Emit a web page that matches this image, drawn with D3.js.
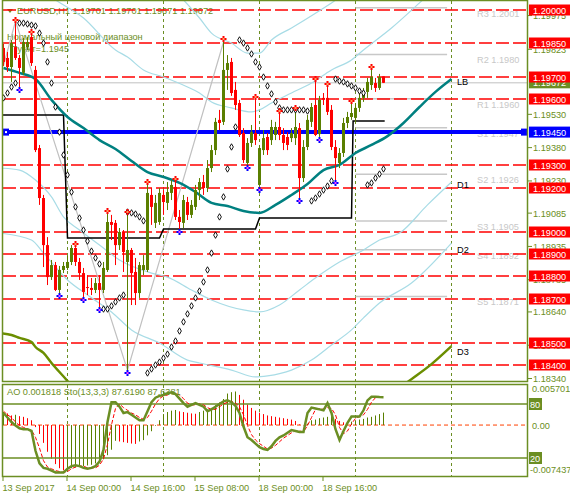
<!DOCTYPE html>
<html><head><meta charset="utf-8">
<script src="https://cdn.jsdelivr.net/npm/d3@7"></script>
<style>
body{margin:0;background:#fff}
svg{display:block}
text{font-family:"Liberation Sans",Arial,sans-serif;font-size:9.2px}
</style>
</head><body>
<svg id="c" width="570" height="498"></svg>
<script>
// ---------------- DATA ----------------
const barOpen = [1.19829,1.19784,1.19743,1.19833,1.19784,1.19717,1.19833,1.19878,1.19730,1.19378,
1.19153,1.18941,1.18797,1.18851,1.18739,1.18829,1.18838,1.18865,1.18928,1.18865,
1.18815,1.18752,1.18748,1.18739,1.18770,1.18739,1.18829,1.19045,1.19041,1.18941,
1.19000,1.18865,1.18919,1.18820,1.18725,1.18829,1.18829,1.19167,1.19041,1.19045,
1.19167,1.19131,1.19176,1.19203,1.19068,1.19041,1.19135,1.19077,1.19113,1.19189,
1.19225,1.19198,1.19288,1.19369,1.19505,1.19496,1.19730,1.19766,1.19640,1.19581,
1.19446,1.19311,1.19401,1.19446,1.19212,1.19369,1.19428,1.19414,1.19437,1.19473,
1.19437,1.19428,1.19423,1.19423,1.19468,1.19243,1.19383,1.19496,1.19572,1.19441,
1.19604,1.19604,1.19550,1.19383,1.19311,1.19356,1.19491,1.19518,1.19514,1.19559,
1.19604,1.19631,1.19662,1.19671,1.19649,1.19701];
const barHigh = [1.19847,1.19811,1.19865,1.19941,1.19797,1.19874,1.19878,1.19887,1.19748,1.19392,
1.19167,1.18977,1.18874,1.18865,1.18847,1.18865,1.18892,1.18941,1.18932,1.18883,
1.18838,1.18806,1.18793,1.18793,1.18806,1.18865,1.19081,1.19077,1.19054,1.19018,
1.19009,1.19077,1.18928,1.18883,1.18865,1.18896,1.19212,1.19198,1.19167,1.19198,
1.19189,1.19225,1.19234,1.19225,1.19099,1.19167,1.19158,1.19144,1.19212,1.19243,
1.19257,1.19324,1.19392,1.19514,1.19550,1.19856,1.19797,1.19784,1.19676,1.19595,
1.19468,1.19423,1.19482,1.19595,1.19392,1.19459,1.19446,1.19505,1.19496,1.19532,
1.19468,1.19450,1.19468,1.19545,1.19491,1.19414,1.19527,1.19581,1.19676,1.19613,
1.19626,1.19653,1.19572,1.19414,1.19378,1.19514,1.19541,1.19577,1.19581,1.19622,
1.19649,1.19694,1.19730,1.19694,1.19712,1.19701];
const barLow = [1.19748,1.19721,1.19676,1.19775,1.19653,1.19707,1.19820,1.19748,1.19360,1.19122,
1.18842,1.18761,1.18784,1.18734,1.18725,1.18815,1.18829,1.18851,1.18847,1.18784,
1.18707,1.18716,1.18716,1.18725,1.18662,1.18725,1.18820,1.18964,1.18851,1.18919,
1.18820,1.18378,1.18671,1.18671,1.18703,1.18806,1.18820,1.19032,1.19018,1.19032,
1.19077,1.19099,1.19144,1.19054,1.19014,1.19018,1.19054,1.19063,1.19099,1.19144,
1.19167,1.19180,1.19270,1.19347,1.19459,1.19482,1.19640,1.19613,1.19550,1.19428,
1.19311,1.19302,1.19383,1.19392,1.19203,1.19347,1.19347,1.19392,1.19414,1.19414,
1.19369,1.19369,1.19405,1.19392,1.19153,1.19225,1.19369,1.19473,1.19432,1.19428,
1.19572,1.19527,1.19369,1.19234,1.19288,1.19338,1.19468,1.19505,1.19496,1.19541,
1.19586,1.19604,1.19640,1.19631,1.19640,1.19671];
const barClose = [1.19766,1.19743,1.19851,1.19784,1.19739,1.19856,1.19856,1.19761,1.19369,1.19153,
1.18941,1.18797,1.18851,1.18739,1.18829,1.18847,1.18865,1.18928,1.18865,1.18815,
1.18730,1.18748,1.18739,1.18770,1.18739,1.18838,1.19045,1.19032,1.18941,1.19000,
1.18910,1.18919,1.18815,1.18725,1.18851,1.18851,1.19176,1.19113,1.19131,1.19176,
1.19135,1.19180,1.19212,1.19068,1.19045,1.19144,1.19077,1.19122,1.19189,1.19225,
1.19198,1.19288,1.19369,1.19496,1.19491,1.19730,1.19761,1.19626,1.19572,1.19437,
1.19324,1.19401,1.19450,1.19414,1.19378,1.19423,1.19369,1.19473,1.19473,1.19437,
1.19401,1.19392,1.19446,1.19473,1.19243,1.19383,1.19505,1.19563,1.19437,1.19595,
1.19595,1.19541,1.19383,1.19333,1.19356,1.19491,1.19518,1.19536,1.19559,1.19604,
1.19631,1.19676,1.19698,1.19649,1.19698,1.19672];

const sarValues = [1.19604,1.19626,1.19653,1.19671,1.19941,1.19941,1.19937,1.19932,1.19928,1.19896,
1.19851,1.19766,1.19671,1.19563,1.19450,1.19347,1.19257,1.19180,1.19113,1.19063,
1.19009,1.18959,1.18914,1.18883,1.18856,1.18653,1.18653,1.18667,1.18685,1.18703,
1.18716,1.19090,1.19086,1.19081,1.19068,1.19050,1.18365,1.18383,1.18401,1.18414,
1.18432,1.18450,1.18482,1.18509,1.18554,1.18595,1.18631,1.18667,1.18703,1.18734,
1.18775,1.18829,1.18905,1.18986,1.19068,1.19158,1.19284,1.19383,1.19473,1.19865,
1.19851,1.19829,1.19802,1.19766,1.19743,1.19698,1.19658,1.19622,1.19586,1.19559,
1.19550,1.19550,1.19550,1.19550,1.19550,1.19550,1.19545,1.19140,1.19153,1.19171,
1.19189,1.19207,1.19230,1.19689,1.19680,1.19676,1.19667,1.19658,1.19649,1.19635,
1.19626,1.19212,1.19221,1.19243,1.19261,1.19284];

const fractalUp = [3,7,18,26,31,36,43,55,63,69,73,78,81,87,92];
const fractalDown = [4,14,20,24,31,44,61,64,74,79,83];

const maIndex = [0,4,8,12,16,20,24,28,32,36,40,44,48,52,56,60,64,68,72,76,80,84,88,92,96,100,104,108,112];
const maValues = [1.19739,1.19717,1.19689,1.19595,1.19518,1.19468,1.19414,1.19374,1.19320,1.19270,1.19248,1.19221,1.19180,1.19131,1.19117,1.19095,1.19086,1.19122,1.19167,1.19216,1.19279,1.19302,1.19356,1.19392,1.19432,1.19491,1.19563,1.19631,1.19689];

const band0Index = [43,45,49,52,57,61,64,67,72,82,85];
const band0Values = [1.20081,1.20045,1.19964,1.19896,1.19851,1.19806,1.19806,1.19865,1.19919,1.20032,1.20068];
const band1Index = [10,13,20,28,31,35,40,46,49,52,57,62,64,67,72,77,82,87,90,97,104,107];
const band1Values = [1.20081,1.20045,1.19964,1.19820,1.19788,1.19730,1.19698,1.19653,1.19626,1.19586,1.19559,1.19541,1.19550,1.19581,1.19626,1.19671,1.19730,1.19775,1.19820,1.19919,1.20032,1.20081];
const band2Index = [-1,4,8,12,15,19,24,29,37,41,47,52,60,64,69,74,79,84,90,94,99,106,112];
const band2Values = [1.19288,1.19279,1.19234,1.19158,1.19068,1.19009,1.18941,1.18874,1.18815,1.18797,1.18739,1.18694,1.18649,1.18640,1.18671,1.18739,1.18806,1.18865,1.18919,1.18964,1.18995,1.19122,1.19225];
const band3Index = [-1,7,10,16,21,27,32,39,46,49,57,63,66,72,77,82,87,90,94,102,112];
const band3Values = [1.18995,1.18964,1.18905,1.18784,1.18716,1.18640,1.18559,1.18500,1.18423,1.18410,1.18378,1.18347,1.18352,1.18378,1.18423,1.18491,1.18559,1.18613,1.18680,1.18770,1.18950];

const d3Index = [-1,2,4,7,8,10,12,16,22,49,74,94,101,107,112];
const d3Values = [1.18545,1.18536,1.18523,1.18504,1.18482,1.18455,1.18410,1.18329,1.18198,1.18063,1.18063,1.18225,1.18324,1.18405,1.18486];

const zigIndex = [0,3,31,55];
const zigValues = [1.19748,1.19950,1.18378,1.19856];

const rangeIndex = [-0.3,15,16,39,40,63,64,87,87.4,95.3];
const rangeValues = [1.19527,1.19527,1.18973,1.18973,1.19014,1.19014,1.19063,1.19063,1.19500,1.19500];

const redLevels = [1.2000,1.1985,1.1970,1.1960,1.1930,1.1920,1.1900,1.1890,1.1880,1.1870,1.1850,1.1840];
const blueLevel = 1.1945;
const bidPrice = 1.19672;
const priceTicks = [1.19975,1.19823,1.19530,1.19380,1.19230,1.19085,1.18935,1.18785,1.18640,1.18490,1.18340];

const pivotNames = ["R3","R2","R1","S1","S2","S3","S4","S5"];
const pivotValues = [1.2001,1.1980,1.1960,1.1947,1.1926,1.1905,1.1892,1.1871];

const lineTags = ["LB","D1","D2","D3"];
const lineTagValues = [1.19680,1.19215,1.18925,1.18465];

const dateLabels = ["13 Sep 2017","14 Sep 00:00","14 Sep 16:00","15 Sep 08:00","18 Sep 00:00","18 Sep 16:00"];
const dateIndex = [0,16,32,48,64,80];
const daySeparators = [16,40,64,88,112];

const aoValues = [0.0019,0.0017,0.0014,0.0015,0.0013,0.0012,0.0010,0.0007,
-0.0003,-0.0013,-0.0026,-0.0039,-0.0049,-0.0057,-0.0063,-0.0066,
-0.0065,-0.0063,-0.0062,-0.0061,-0.0060,-0.0059,-0.0058,-0.0056,-0.0054,
-0.0050,-0.0044,-0.0036,-0.0023,-0.0024,-0.0025,-0.0026,-0.0027,-0.00275,
-0.0024,-0.0022,-0.0015,-0.0009,-0.0001,0.0007,
0.0016,0.0019,0.0021,0.0022,0.0020,0.0019,0.0018,0.0017,0.00165,
0.0019,0.0021,0.0022,0.0025,0.0029,0.0033,0.0038,0.0046,0.0048,0.0049,
0.0044,0.0037,0.0030,0.0025,0.0021,0.0018,0.0016,0.0014,0.0013,0.0012,0.0011,0.0010,0.0009,0.0008,0.0006,0.0001,-0.00005,
0.0002,0.0007,0.0008,0.0010,0.0011,0.0012,0.0014,
0.0009,0.0006,0.0004,0.0003,
0.0005,0.0007,0.0008,0.0009,0.0011,0.0012,0.0014,0.0016,0.001818];

const stochMain = [70,65,60,56,53,52,52,50,28,14,9,8,6,4,4,4,8,11,12,11,9,8,9,11,16,29,60,82,82,77,
70,71,68,65,62,62,72,82,87,89,90,92,93,91,86,81,77,79,81,79,77,72,74,77,80,83,84,82,78,70,
55,43,40,36,32,30,29,33,39,43,45,48,51,50,49,49,70,76,75,74,73,81,70,52,40,50,59,66,66,66,
73,84,88,88,87.7,87.619];
const stochSignal = [72,68,65,60,56,54,52,51,43,31,17,10,8,6,5,4,5,8,10,11,11,9,9,9,12,19,35,57,75,80,
76,73,70,68,65,63,65,72,80,86,89,90,92,92,90,86,81,79,79,80,79,76,74,74,77,80,82,83,81,77,
68,56,46,40,36,33,30,31,34,38,42,45,48,50,50,49,56,65,74,75,74,76,75,68,54,47,50,58,64,66,
68,74,82,87,88,87.7];

const aoTicks = {top:0.005701, bottom:-0.007437};

// ---------------- SETUP ----------------
const OLIVE = "#6b8e23", BULL = "#5a7f00", BEAR = "#ff0000";
const svg = d3.select("#c");
svg.append("rect").attr("width",570).attr("height",498).attr("fill","#fff");

const x = d3.scaleLinear().domain([0,112]).range([3.5,451.5]);
const y = d3.scaleLinear().domain([1.2,1.184]).range([10,365.2]);
const yAO = d3.scaleLinear().domain([aoTicks.top, aoTicks.bottom]).range([386,476]);
const yS = d3.scaleLinear().domain([0,100]).range([476,386]);

const defs = svg.append("defs");
defs.append("clipPath").attr("id","mainClip").append("rect").attr("x",3).attr("y",1).attr("width",525).attr("height",380);
defs.append("clipPath").attr("id","indClip").append("rect").attr("x",3).attr("y",385).attr("width",525).attr("height",91);

// day separators
svg.append("g").selectAll("line").data(daySeparators).join("line")
  .attr("x1",d=>x(d)).attr("x2",d=>x(d)).attr("y1",1).attr("y2",477)
  .attr("stroke",OLIVE).attr("stroke-width",1).attr("stroke-dasharray","3,3");

const main = svg.append("g").attr("clip-path","url(#mainClip)");

// texts in chart
main.append("path").attr("d","M7,9L13,9L10,13Z").attr("fill",OLIVE);
main.append("text").attr("x",17).attr("y",14).attr("fill",OLIVE)
  .text("EURUSD,H1  1.19701 1.19701 1.19671 1.19672");
main.append("text").attr("x",7).attr("y",40).attr("fill",OLIVE).text("Нормальный ценовой диапазон");
main.append("text").attr("x",11).attr("y",52).attr("fill",OLIVE).text("Пункт=1.1945");

// pivot lines & labels
const pivStart = 88, pivEnd = 110.9;
main.append("g").selectAll("line").data(pivotValues).join("line")
  .attr("x1",x(pivStart)).attr("x2",x(pivEnd)).attr("y1",d=>y(d)).attr("y2",d=>y(d))
  .attr("stroke","#c8c8c8").attr("stroke-width",1.5);
main.append("g").selectAll("text").data(pivotValues).join("text")
  .attr("x",477).attr("y",d=>y(d)+9).attr("fill","#c8c8c8")
  .text((d,i)=>pivotNames[i]+" "+d.toFixed(4));

// bid line
main.append("line").attr("x1",3).attr("x2",528).attr("y1",y(bidPrice)).attr("y2",y(bidPrice))
  .attr("stroke","#c0c0c0").attr("stroke-width",1);

// red levels
main.append("g").selectAll("line").data(redLevels).join("line")
  .attr("x1",3).attr("x2",528).attr("y1",d=>Math.round(y(d))).attr("y2",d=>Math.round(y(d)))
  .attr("stroke",BEAR).attr("stroke-width",1.6).attr("stroke-dasharray","13,4");

// blue level
main.append("line").attr("x1",3).attr("x2",528).attr("y1",y(blueLevel)).attr("y2",y(blueLevel))
  .attr("stroke","#0000ff").attr("stroke-width",4);
main.append("rect").attr("x",3).attr("y",y(blueLevel)-3.5).attr("width",6).attr("height",7).attr("fill","#0000ff");
main.append("rect").attr("x",5).attr("y",y(blueLevel)-1).attr("width",2).attr("height",2).attr("fill","#fff");
main.append("rect").attr("x",521).attr("y",y(blueLevel)-3.5).attr("width",6).attr("height",7).attr("fill","#0000ff");

// line generator
const lineGen = (idx,vals,ys)=>d3.line().x((d,i)=>x(idx[i])).y(d=>ys(d))(vals);

// bands (light blue)
[[band0Index,band0Values],[band1Index,band1Values],[band2Index,band2Values],[band3Index,band3Values]].forEach(([ix,vs])=>{
  main.append("path").attr("d",d3.line().x((d,i)=>x(ix[i])).y(d=>y(d)).curve(d3.curveMonotoneX)(vs))
    .attr("fill","none").attr("stroke","#a8dce6").attr("stroke-width",1.2);
});

// zigzag
main.append("path").attr("d",lineGen(zigIndex,zigValues,y))
  .attr("fill","none").attr("stroke","#c0c0c0").attr("stroke-width",1.2);

// range step (black)
main.append("path").attr("d",lineGen(rangeIndex,rangeValues,y))
  .attr("fill","none").attr("stroke","#000").attr("stroke-width",1.5);

// olive D3 line
main.append("path").attr("d",d3.line().x((d,i)=>x(d3Index[i])).y(d=>y(d)).curve(d3.curveMonotoneX)(d3Values))
  .attr("fill","none").attr("stroke","#6b8e00").attr("stroke-width",2.5);

// teal MA
main.append("path").attr("d",d3.line().x((d,i)=>x(maIndex[i])).y(d=>y(d)).curve(d3.curveMonotoneX)(maValues))
  .attr("fill","none").attr("stroke","#008080").attr("stroke-width",2.5);

// line tags
main.append("g").selectAll("text").data(lineTags).join("text")
  .attr("x",457).attr("y",(d,i)=>y(lineTagValues[i])+4).attr("fill","#000").attr("font-size","10.5px").text(d=>d);

// candles
const idx = d3.range(barOpen.length);
const cg = main.append("g");
cg.selectAll("line").data(idx).join("line")
  .attr("x1",i=>x(i)).attr("x2",i=>x(i))
  .attr("y1",i=>y(barHigh[i])).attr("y2",i=>y(barLow[i]))
  .attr("stroke",i=>barClose[i]>=barOpen[i]?BULL:BEAR).attr("stroke-width",1);
cg.selectAll("rect").data(idx).join("rect")
  .attr("x",i=>x(i)-1.5).attr("width",3)
  .attr("y",i=>y(Math.max(barOpen[i],barClose[i])))
  .attr("height",i=>Math.max(1,Math.abs(y(barOpen[i])-y(barClose[i]))))
  .attr("fill",i=>barClose[i]>=barOpen[i]?BULL:BEAR);

// SAR
main.append("g").selectAll("path").data(idx).join("path")
  .attr("d",d3.symbol(d3.symbolDiamond,12)())
  .attr("transform",i=>`translate(${x(i)},${y(sarValues[i])})`)
  .attr("fill","#fff").attr("stroke","#000").attr("stroke-width",0.9);

// fractals
function marker(g,cx,cy,col,center){
  g.append("path").attr("d",`M${cx-3},${cy}H${cx+3}M${cx},${cy-3}V${cy+3}`).attr("stroke",col).attr("stroke-width",2);
  g.append("rect").attr("x",cx-1).attr("y",cy-1).attr("width",2).attr("height",2).attr("fill",center);
}
const fg = main.append("g");
fractalUp.forEach(i=>marker(fg,x(i),y(barHigh[i])-3,"#ff0000","#ffa060"));
fractalDown.forEach(i=>marker(fg,x(i),y(barLow[i])+3,"#0000ff","#ff40ff"));

// ---------------- INDICATOR ----------------
const ind = svg.append("g").attr("clip-path","url(#indClip)");
ind.append("line").attr("x1",3).attr("x2",528).attr("y1",yAO(0)).attr("y2",yAO(0))
  .attr("stroke","#ff4000").attr("stroke-width",1).attr("stroke-dasharray","4,3");
ind.append("g").selectAll("line").data(idx).join("line")
  .attr("x1",i=>x(i)).attr("x2",i=>x(i)).attr("y1",yAO(0)).attr("y2",i=>yAO(aoValues[i]))
  .attr("stroke",i=>(i>0&&aoValues[i]<aoValues[i-1])?BEAR:BULL).attr("stroke-width",1);
[80,20].forEach(v=>ind.append("line").attr("x1",3).attr("x2",528).attr("y1",yS(v)).attr("y2",yS(v))
  .attr("stroke",OLIVE).attr("stroke-width",1.5));
ind.append("path").attr("d",d3.line().x((d,i)=>x(i)).y(d=>yS(d))(stochSignal))
  .attr("fill","none").attr("stroke","#ff0000").attr("stroke-width",1).attr("stroke-dasharray","4,2");
ind.append("path").attr("d",d3.line().x((d,i)=>x(i)).y(d=>yS(d))(stochMain))
  .attr("fill","none").attr("stroke",OLIVE).attr("stroke-width",2.5);
ind.append("text").attr("x",7).attr("y",395).attr("fill",OLIVE).text("AO 0.001818  Sto(13,3,3) 87.6190 87.6381");

// ---------------- FRAME & AXES ----------------
const fr = svg.append("g").attr("fill","none").attr("stroke",OLIVE);
fr.append("rect").attr("x",2.5).attr("y",0.5).attr("width",525).attr("height",381).attr("stroke-width",1.5);
fr.append("rect").attr("x",2.5).attr("y",384.5).attr("width",525).attr("height",92).attr("stroke-width",1.5);

// price axis ticks & labels
const ax = svg.append("g");
ax.selectAll("line").data(priceTicks).join("line")
  .attr("x1",528).attr("x2",532).attr("y1",d=>y(d)).attr("y2",d=>y(d)).attr("stroke",OLIVE);
ax.selectAll("text").data(priceTicks).join("text")
  .attr("x",533).attr("y",d=>y(d)+3.5).attr("fill",OLIVE).text(d=>d.toFixed(5));

function box(py,txt,fill){
  const g=svg.append("g");
  g.append("rect").attr("x",529).attr("y",py-5.5).attr("width",41).attr("height",11).attr("fill",fill);
  g.append("text").attr("x",533).attr("y",py+3.5).attr("fill","#fff").text(txt);
}
box(y(bidPrice),bidPrice.toFixed(5),"#6b8e23");
redLevels.forEach(v=>box(Math.round(y(v)),v.toFixed(5),"#ff0000"));
box(y(blueLevel),blueLevel.toFixed(5),"#0000ff");

// indicator axis
const ia = svg.append("g");
ia.append("text").attr("x",532).attr("y",392).attr("fill",OLIVE).text(aoTicks.top.toFixed(6));
ia.append("text").attr("x",532).attr("y",yAO(0)+3.5).attr("fill",OLIVE).text("0.00");
ia.append("text").attr("x",530).attr("y",473).attr("fill",OLIVE).text(aoTicks.bottom.toFixed(6));
[80,20].forEach(v=>{
  ia.append("rect").attr("x",529).attr("y",yS(v)-6).attr("width",13).attr("height",12).attr("fill",OLIVE);
  ia.append("text").attr("x",530).attr("y",yS(v)+3.5).attr("fill","#fff").text(v);
});

// date axis
const da = svg.append("g");
da.selectAll("line").data(dateIndex).join("line")
  .attr("x1",d=>x(d)-0.5).attr("x2",d=>x(d)-0.5).attr("y1",477).attr("y2",481).attr("stroke",OLIVE);
da.selectAll("text").data(dateLabels).join("text")
  .attr("x",(d,i)=>x(dateIndex[i])-1).attr("y",491).attr("fill",OLIVE).text(d=>d);
</script>
</body></html>
